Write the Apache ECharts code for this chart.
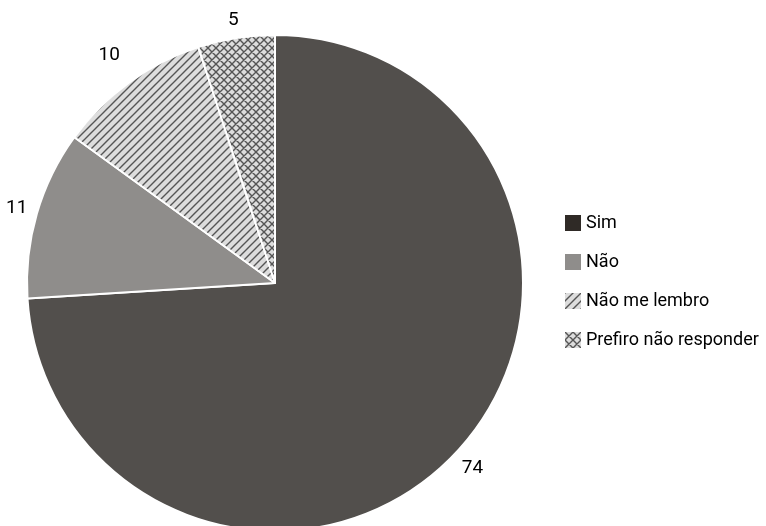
<!DOCTYPE html>
<html>
<head>
<meta charset="utf-8">
<script src="https://cdn.jsdelivr.net/npm/echarts@6/dist/echarts.min.js"></script>
<style>
html,body{margin:0;padding:0;background:#fff;}
#chart{width:766px;height:526px;}
</style>
</head>
<body>
<div id="chart"></div>
<script>
var categories = ['Sim', 'Não', 'Não me lembro', 'Prefiro não responder'];
var values = [74, 11, 10, 5];
var labelOffsets = [23, 21, 34, 18];

function makePattern(cross) {
  var s = 8;
  var c = document.createElement('canvas');
  c.width = s; c.height = s;
  var ctx = c.getContext('2d');
  ctx.fillStyle = '#dddddd';
  ctx.fillRect(0, 0, s, s);
  ctx.strokeStyle = '#555555';
  ctx.lineWidth = 1.4;
  ctx.beginPath();
  ctx.moveTo(-1, s + 1); ctx.lineTo(s + 1, -1);
  ctx.moveTo(-1, 1); ctx.lineTo(1, -1);
  ctx.moveTo(s - 1, s + 1); ctx.lineTo(s + 1, s - 1);
  if (cross) {
    ctx.moveTo(-1, -1); ctx.lineTo(s + 1, s + 1);
    ctx.moveTo(s - 1, -1); ctx.lineTo(s + 1, 1);
    ctx.moveTo(-1, s - 1); ctx.lineTo(1, s + 1);
  }
  ctx.stroke();
  return { image: c, repeat: 'repeat' };
}

var fills = ['#524f4c', '#8f8d8b', makePattern(false), makePattern(true)];
var legendFills = ['#2f2a26', '#8f8d8b', makePattern(false), makePattern(true)];
var font = "Roboto, 'Liberation Sans', sans-serif";

var chart = echarts.init(document.getElementById('chart'), null, { renderer: 'canvas' });
chart.setOption({
  animation: false,
  backgroundColor: '#ffffff',
  legend: {
    orient: 'vertical',
    left: 560,
    top: 209,
    itemWidth: 16,
    itemHeight: 16,
    itemGap: 21,
    icon: 'rect',
    textStyle: { fontFamily: font, fontSize: 18, color: '#000' },
    data: categories.map(function (n, i) {
      return { name: n, itemStyle: { color: legendFills[i], borderWidth: 0 } };
    })
  },
  series: [{
    type: 'pie',
    center: [275, 283],
    radius: 248,
    startAngle: 90,
    clockwise: true,
    avoidLabelOverlap: false,
    itemStyle: { borderColor: '#ffffff', borderWidth: 2 },
    label: {
      show: true,
      position: 'outside',
      formatter: '{c}',
      fontFamily: font,
      fontSize: 19,
      color: '#000'
    },
    labelLine: { show: true, length: 22, length2: 0, lineStyle: { opacity: 0 } },
    labelLayout: function (params) {
      var pts = params.labelLinePoints;
      if (!pts) return {};
      var p = pts[pts.length - 1];
      return { x: p[0], y: p[1], align: 'center', verticalAlign: 'middle' };
    },
    data: categories.map(function (n, i) {
      return { name: n, value: values[i], itemStyle: { color: fills[i] }, labelLine: { length: labelOffsets[i] } };
    })
  }]
});
</script>
</body>
</html>
